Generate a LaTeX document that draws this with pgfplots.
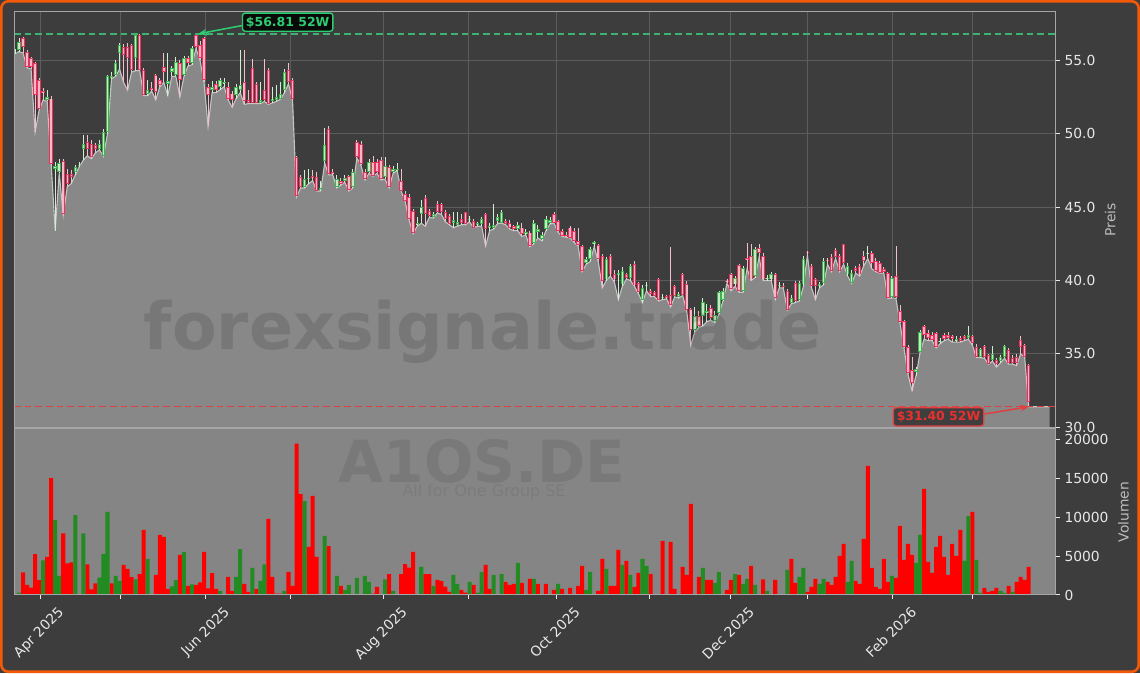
\documentclass[border=0pt]{standalone}
\usepackage{fontspec}
\setmainfont{DejaVu Sans}
\usepackage{pgfplots}
\usepackage{pgfplotstable}
\pgfplotsset{compat=1.18}
\usetikzlibrary{arrows.meta}

\definecolor{figbg}{HTML}{3D3D3D}
\definecolor{orangeedge}{HTML}{F25A0A}
\definecolor{areagray}{HTML}{888888}
\definecolor{arealine}{HTML}{C4C4C4}
\definecolor{volbg}{HTML}{858585}
\definecolor{gridc}{HTML}{5C5C5C}
\definecolor{spinec}{HTML}{A6A6A6}
\definecolor{ticktext}{HTML}{E8E8E8}
\definecolor{labeltext}{HTML}{BDBDBD}
\definecolor{upedge}{HTML}{3DB54A}
\definecolor{upfill}{HTML}{C9E8C9}
\definecolor{upwick}{HTML}{D2EED2}
\definecolor{downedge}{HTML}{E8335E}
\definecolor{downfill}{HTML}{F7B7C6}
\definecolor{downwick}{HTML}{F2BFCB}
\definecolor{volred}{HTML}{FF0000}
\definecolor{volgreen}{HTML}{228B22}
\definecolor{hiline}{HTML}{3CB371}
\definecolor{hitext}{HTML}{2ECC71}
\definecolor{loline}{HTML}{E04040}
\definecolor{lotext}{HTML}{E8312F}

\newcommand\chartfont{\fontsize{10}{12}\selectfont}

% daily candles, i = trading day index
\pgfplotstableread{
i o h l c
0 55.50 55.80 55.45 55.60
1 55.71 56.50 55.60 56.28
2 56.50 56.60 55.50 55.93
3 55.55 55.70 54.50 54.56
4 55.14 55.20 54.40 54.56
5 54.79 54.90 50.10 52.62
6 53.65 53.80 51.60 51.71
7 52.90 53.10 52.30 52.80
8 52.30 52.97 52.20 52.50
9 52.40 52.60 47.90 47.94
10 47.60 48.10 43.40 47.80
11 47.40 48.30 47.30 48.00
12 48.17 48.30 44.45 44.50
13 47.26 47.60 46.40 46.57
14 47.26 47.50 46.60 47.03
15 47.37 47.90 47.20 47.76
16 47.80 48.10 47.75 47.90
17 48.97 49.88 48.20 49.31
18 49.43 49.90 48.50 48.97
19 49.31 49.60 48.30 48.40
20 49.20 49.40 48.70 48.97
21 48.97 49.60 48.90 49.31
22 48.51 50.30 48.45 50.11
23 50.11 54.00 50.00 53.92
24 53.80 54.20 53.75 53.90
25 53.99 55.00 53.90 54.79
26 55.48 56.20 54.40 56.05
27 55.93 56.10 53.50 55.36
28 55.93 56.20 52.97 55.14
29 56.05 56.10 54.20 54.34
30 55.14 56.80 54.30 56.73
31 56.73 56.80 54.30 54.34
32 54.34 54.50 52.60 52.62
33 52.70 53.65 52.60 53.00
34 53.10 53.50 52.90 53.00
35 54.00 54.10 52.30 52.85
36 53.65 53.80 53.20 53.31
37 54.56 55.50 53.50 54.22
38 53.40 55.50 52.60 53.60
39 54.22 54.60 53.90 54.45
40 53.99 55.20 53.90 54.90
41 54.79 55.00 52.50 53.65
42 53.99 55.30 53.90 55.14
43 55.14 55.30 54.60 54.79
44 54.79 56.00 54.70 55.82
45 56.73 56.81 55.80 55.93
46 56.05 56.30 55.00 55.14
47 56.50 56.60 53.50 53.65
48 53.20 53.40 50.50 52.62
49 52.97 53.60 52.80 53.20
50 53.42 53.60 52.80 52.97
51 53.20 53.80 53.00 53.65
52 53.50 53.80 53.20 53.55
53 53.20 53.50 52.30 52.40
54 52.74 52.90 51.80 52.28
55 52.62 53.40 52.40 53.20
56 53.00 55.70 52.80 53.30
57 53.50 55.70 52.00 52.20
58 52.30 53.00 52.05 52.10
59 54.50 55.10 52.05 52.10
60 53.40 53.50 52.05 52.10
61 52.10 53.50 52.05 52.30
62 53.00 55.10 52.20 52.30
63 54.34 54.50 52.00 52.05
64 52.20 53.20 52.10 52.40
65 52.30 53.30 52.20 52.50
66 52.40 53.50 52.35 52.70
67 52.97 54.40 52.80 54.22
68 54.34 54.80 53.40 53.54
69 53.65 53.80 52.30 52.40
70 48.40 48.50 45.70 45.77
71 47.03 47.20 46.30 46.35
72 46.35 47.50 46.30 46.92
73 46.90 47.60 46.60 47.00
74 47.10 47.50 46.80 47.00
75 47.03 47.40 46.10 46.12
76 46.20 46.80 46.10 46.30
77 48.17 50.40 48.00 49.20
78 50.34 50.50 47.20 47.26
79 47.40 47.60 47.20 47.26
80 46.35 47.20 46.30 46.92
81 46.80 47.00 46.50 46.57
82 46.80 47.20 46.70 47.00
83 47.10 47.20 46.10 46.20
84 46.40 47.60 46.30 47.40
85 49.43 49.60 48.35 48.40
86 49.31 49.50 47.85 47.94
87 47.40 47.60 46.85 46.90
88 47.40 48.30 47.30 48.05
89 48.05 48.50 47.10 47.14
90 48.05 48.30 47.30 47.37
91 48.18 48.40 46.85 46.92
92 47.03 48.40 46.90 47.83
93 47.72 47.90 46.30 46.35
94 47.38 47.80 47.30 47.60
95 47.55 48.00 47.50 47.60
96 46.80 47.60 46.10 46.12
97 45.89 46.10 45.40 45.44
98 45.67 45.90 44.10 44.18
99 44.75 44.90 43.20 43.27
100 43.80 44.30 43.70 43.90
101 44.52 45.50 43.90 44.98
102 45.62 45.80 43.70 44.52
103 44.75 44.90 44.30 44.41
104 44.30 44.70 44.25 44.52
105 45.21 45.40 44.60 44.64
106 45.21 45.30 44.50 44.64
107 44.64 44.80 44.00 44.18
108 44.40 44.50 43.80 43.84
109 43.90 44.64 43.60 44.10
110 43.80 44.64 43.70 44.00
111 44.20 44.50 43.80 43.90
112 44.64 44.70 43.80 43.84
113 44.10 44.40 44.00 44.20
114 44.07 44.20 43.60 43.61
115 43.80 44.00 43.70 43.95
116 43.84 44.30 43.70 44.18
117 44.52 44.60 42.35 43.50
118 43.60 43.90 43.40 43.70
119 43.61 45.20 43.50 43.77
120 44.07 44.50 43.90 44.30
121 43.95 44.80 43.90 44.64
122 44.07 44.20 43.80 43.84
123 43.95 44.10 43.50 43.61
124 43.68 43.80 43.40 43.50
125 43.54 44.00 43.40 43.77
126 43.61 43.90 43.00 43.15
127 43.20 43.50 43.10 43.30
128 43.27 43.40 42.30 42.35
129 42.58 44.10 42.50 43.95
130 43.30 43.80 42.90 43.50
131 42.81 43.30 42.70 43.08
132 43.50 44.40 43.40 44.20
133 43.90 44.30 43.85 44.10
134 44.52 44.70 43.90 43.95
135 44.07 44.10 43.30 43.38
136 43.38 43.50 43.00 43.04
137 43.10 43.30 42.95 43.00
138 43.61 43.70 42.90 42.93
139 43.38 43.60 42.60 42.70
140 42.70 43.60 42.35 42.45
141 42.35 42.40 40.60 40.64
142 41.21 41.60 41.10 41.44
143 41.44 42.30 41.30 42.13
144 42.50 42.70 42.30 42.60
145 42.40 42.50 41.30 41.44
146 41.67 41.80 39.50 39.96
147 40.07 41.60 40.00 41.44
148 41.67 41.80 40.30 40.41
149 40.41 40.70 39.90 40.07
150 40.40 40.70 38.70 40.50
151 39.73 40.90 39.60 40.64
152 40.41 40.50 40.10 40.18
153 40.18 41.10 40.00 40.98
154 41.14 41.30 39.60 39.66
155 39.80 39.90 39.10 39.20
156 38.70 39.70 38.50 39.50
157 39.60 39.90 39.30 39.70
158 39.30 39.40 38.90 39.05
159 39.20 39.30 38.90 38.95
160 40.10 40.15 38.60 38.70
161 38.80 39.10 38.70 38.90
162 38.95 39.00 38.75 38.80
163 39.00 42.30 38.20 38.30
164 39.61 39.70 38.88 38.93
165 38.90 39.20 38.80 39.10
166 40.41 40.50 38.98 39.04
167 39.73 40.00 37.90 38.02
168 38.06 38.10 35.60 36.65
169 36.65 38.20 36.50 37.56
170 37.56 37.90 36.80 36.88
171 37.56 38.80 36.90 38.52
172 37.80 38.40 37.20 37.90
173 38.13 38.30 37.30 37.45
174 37.22 37.90 37.10 37.67
175 37.79 39.30 37.70 39.20
176 38.70 39.50 38.60 39.27
177 40.00 40.10 39.80 39.95
178 40.41 40.50 39.30 39.39
179 39.73 40.30 39.60 40.18
180 41.03 41.10 39.20 39.27
181 39.27 41.00 39.20 40.87
182 41.50 42.58 40.80 41.40
183 41.67 42.50 40.00 40.07
184 40.30 42.30 40.20 42.13
185 42.20 42.50 41.60 41.90
186 41.67 41.90 40.00 40.07
187 40.10 40.40 40.00 40.20
188 40.07 40.60 40.00 40.41
189 40.41 40.50 38.70 38.80
190 39.60 39.90 39.50 39.70
191 39.65 39.80 39.50 39.60
192 39.27 39.40 37.98 38.02
193 38.50 39.00 38.40 38.80
194 39.84 40.00 38.50 38.59
195 38.70 40.00 38.60 39.84
196 39.73 41.70 39.60 41.49
197 41.95 42.00 41.70 41.85
198 40.98 41.10 39.50 39.61
199 40.07 40.20 38.70 39.61
200 39.61 39.90 39.50 39.73
201 39.84 41.50 39.70 41.33
202 41.40 41.50 41.10 41.30
203 41.62 41.80 40.60 40.64
204 42.08 42.20 41.50 41.62
205 41.67 41.80 40.60 40.64
206 42.47 42.50 41.10 41.21
207 40.41 41.20 40.30 40.98
208 39.84 40.70 39.80 40.53
209 40.87 41.00 40.50 40.64
210 40.98 41.10 40.30 40.41
211 41.67 42.00 41.00 41.33
212 41.80 42.35 41.50 41.90
213 41.90 42.00 40.80 41.20
214 41.33 41.50 40.60 40.64
215 41.21 41.30 40.50 40.53
216 40.80 40.90 40.50 40.60
217 40.53 40.60 38.78 38.82
218 38.90 40.30 38.80 40.18
219 40.30 42.35 38.80 38.90
220 37.90 38.30 37.10 37.20
221 37.22 37.30 35.40 35.50
222 35.50 35.60 33.60 33.68
223 33.91 34.80 32.50 33.00
224 33.80 34.10 33.50 33.95
225 35.16 36.60 35.10 36.46
226 36.87 37.00 36.00 36.30
227 36.42 36.60 35.90 36.08
228 36.30 36.50 35.90 35.96
229 36.42 36.50 35.40 35.50
230 35.80 36.10 35.70 35.90
231 36.30 36.40 35.90 36.01
232 36.30 36.50 36.00 36.08
233 36.19 36.30 35.80 36.01
234 35.90 36.20 35.80 36.00
235 36.08 36.20 35.80 35.85
236 36.19 36.30 35.90 36.01
237 36.08 36.92 36.00 36.30
238 36.19 36.30 35.60 35.73
239 35.50 35.70 34.75 34.80
240 34.80 35.40 34.75 35.30
241 35.55 35.60 34.70 34.77
242 34.93 35.00 34.30 34.32
243 34.60 35.55 34.50 35.00
244 34.60 34.70 34.10 34.30
245 34.50 34.90 34.40 34.80
246 34.82 35.60 34.70 35.55
247 35.28 35.40 34.30 34.36
248 34.71 34.90 34.30 34.36
249 34.82 35.00 34.20 34.36
250 35.96 36.20 35.00 35.50
251 35.62 35.70 34.80 34.82
252 34.25 34.30 31.40 31.74
257.2 31.40 31.40 31.40 31.40
}\candles

\pgfplotstableread{
i v
2 2900
3 1300
4 950
5 5250
6 1900
8 4900
9 15050
12 7950
13 4080
14 4200
18 3950
19 730
20 1500
24 1500
27 3870
28 3350
29 2300
31 2700
32 8400
35 2580
36 7740
37 7480
38 770
41 5160
43 1160
45 1300
46 1630
47 5550
48 860
49 2800
50 770
53 2320
54 520
57 1420
58 390
60 770
63 9800
64 2320
65 170
66 170
68 2970
69 1160
70 19500
71 13000
73 6200
74 12770
75 4900
78 6300
81 1160
89 170
90 1030
93 2670
96 2670
97 3960
98 3530
99 5550
102 2670
103 2670
105 1935
106 1800
107 1075
108 390
111 650
112 300
114 1300
117 3870
118 770
122 1680
123 1300
124 1420
126 1550
128 2060
130 1420
132 1420
134 650
136 770
138 900
140 1160
141 3740
145 520
146 4640
148 1160
149 1160
150 5800
152 4380
154 1030
155 2840
158 2700
161 6970
163 6840
164 770
166 3610
167 2580
168 11740
170 2320
172 1935
173 1935
177 650
178 1935
180 2580
183 3740
186 2000
189 1935
193 4640
194 1550
197 390
198 1030
199 2060
202 1680
203 1300
204 2320
205 5030
206 6580
209 1800
210 1420
211 7220
212 16640
213 3480
214 1030
215 770
216 4640
217 1680
219 2200
220 8900
221 4510
222 6580
223 5160
226 13670
227 4260
228 2840
229 6200
230 7610
231 4900
232 2580
233 6580
234 5030
235 8390
238 10700
241 900
242 390
243 520
244 900
247 1160
249 1680
250 2320
251 1935
252 3610
}\volr

\pgfplotstableread{
i v
1 300
7 4470
10 9630
11 2450
15 10300
17 7950
21 2240
22 5250
23 10700
25 2450
26 1800
30 2000
33 4640
39 1120
40 1900
42 5550
44 1380
51 520
55 2320
56 5900
59 3480
61 1800
62 3950
67 520
72 12100
77 7600
80 2450
82 650
83 1300
85 2200
87 2450
88 1680
92 2000
94 520
101 3610
104 1160
109 2580
110 1420
113 1680
115 300
116 2970
119 2580
121 2700
125 4130
129 2060
135 1420
142 650
143 2970
147 3350
151 3870
153 2580
156 4640
157 3740
171 3480
174 1550
175 2970
179 2700
181 1420
182 2060
184 1300
187 520
192 3230
195 2320
196 3480
200 1420
201 2060
207 1680
208 4390
218 2450
224 4130
225 7740
236 4390
237 10190
239 4510
240 260
245 520
246 260
248 390
}\volg

\pgfplotsset{
  panel/.style={
    scale only axis, width=10.41in,
    xmin=-0.24, xmax=258.7,
    xtick={6.22,26.30,47.44,68.49,91.62,112.77,134.66,157.79,177.94,197.09,218.24,238.14},
    axis line style={draw=none},
    tick align=outside,
    major tick length=0.04in,
    tick style={draw=ticktext, line width=0.7pt},
    yticklabel pos=right, ytick pos=right,
    tick label style={font=\chartfont, text=ticktext},
    ylabel style={font=\chartfont, text=labeltext},
    clip mode=individual,
  },
  wick/.style={draw=none, mark=none, restrict x to domain=-1:253,
    error bars/y dir=plus, error bars/y explicit, error bars/error mark=none,
    error bars/error bar style={draw=#1, line width=0.6pt}},
  bodyedge/.style={draw=none, mark=none, restrict x to domain=-1:253,
    error bars/y dir=plus, error bars/y explicit, error bars/error mark=none,
    error bars/error bar style={draw=#1, line width=2.5pt}},
  bodyfill/.style={draw=none, mark=none, restrict x to domain=-1:253,
    error bars/y dir=plus, error bars/y explicit, error bars/error mark=none,
    error bars/error bar style={draw=#1, line width=1.1pt, shorten <=0.7pt, shorten >=0.7pt}},
}

\begin{document}
\begin{tikzpicture}[x=0.01in, y=0.01in]
\useasboundingbox (0,0) rectangle (1140,673);
\fill[figbg] (0,0) rectangle (1140,673);

% price panel
\begin{axis}[panel, at={(0.14in,6.61in)}, anchor=north west, height=4.16in,
  ymin=29.96, ymax=58.32, ytick={30,35,40,45,50,55},
  xticklabels={}, xtick style={draw=none},
  grid=major, grid style={draw=gridc, line width=0.6pt},
  yticklabel style={/pgf/number format/.cd, fixed, fixed zerofill, precision=1, assume math mode=true},
  ylabel={Preis},
]
\addplot[fill=areagray, draw=none] table[x=i, y=l] {\candles} \closedcycle;
\addplot[draw=arealine, line width=0.8pt, mark=none] table[x=i, y=l] {\candles};

\addplot[wick=upwick, restrict expr to domain={\thisrow{c}-\thisrow{o}}{0:100}]
  table[x=i, y=l, y error plus expr=\thisrow{h}-\thisrow{l}] {\candles};
\addplot[wick=downwick, restrict expr to domain={\thisrow{o}-\thisrow{c}}{0.001:100}]
  table[x=i, y=l, y error plus expr=\thisrow{h}-\thisrow{l}] {\candles};

\addplot[bodyedge=upedge, restrict expr to domain={\thisrow{c}-\thisrow{o}}{0:100}]
  table[x=i, y=o, y error plus expr=\thisrow{c}-\thisrow{o}] {\candles};
\addplot[bodyfill=upfill, restrict expr to domain={\thisrow{c}-\thisrow{o}}{0:100}]
  table[x=i, y=o, y error plus expr=\thisrow{c}-\thisrow{o}] {\candles};
\addplot[bodyedge=downedge, restrict expr to domain={\thisrow{o}-\thisrow{c}}{0.001:100}]
  table[x=i, y=c, y error plus expr=\thisrow{o}-\thisrow{c}] {\candles};
\addplot[bodyfill=downfill, restrict expr to domain={\thisrow{o}-\thisrow{c}}{0.001:100}]
  table[x=i, y=c, y error plus expr=\thisrow{o}-\thisrow{c}] {\candles};

% 52-week high / low
\addplot[hiline, line width=1.1pt, dash pattern=on 4.8pt off 2.9pt, mark=none] coordinates {(-0.24,56.81) (258.7,56.81)};
\addplot[loline, line width=1.1pt, dash pattern=on 4.8pt off 2.9pt, mark=none] coordinates {(-0.24,31.40) (258.7,31.40)};

\node[draw=hitext, line width=1pt, fill=black, fill opacity=0.85, text opacity=1, rounded corners=2pt,
  text=hitext, font=\bfseries\fontsize{9}{11}\selectfont, inner xsep=2.5pt, inner ysep=2.5pt]
  (hi) at (axis cs:67.8,57.60) {\$56.81 52W};
\draw[-{Stealth[length=6pt,width=5pt]}, hitext, line width=1.1pt] ([yshift=-2.5pt]hi.west) -- (axis cs:45.6,56.81);

\node[draw=loline, line width=1pt, fill=black!80, fill opacity=0.85, text opacity=1, rounded corners=2pt,
  text=lotext, font=\bfseries\fontsize{9}{11}\selectfont, inner xsep=2.5pt, inner ysep=2.5pt]
  (lo) at (axis cs:229.6,30.71) {\$31.40 52W};
\draw[-{Stealth[length=6pt,width=5pt]}, loline, line width=1.1pt] ([yshift=2pt]lo.east) -- (axis cs:252,31.40);

\draw[spinec, line width=0.7pt] (rel axis cs:0,0) rectangle (rel axis cs:1,1);
\end{axis}

% volume panel
\begin{axis}[panel, at={(0.14in,2.44in)}, anchor=north west, height=1.66in,
  ymin=0, ymax=21400, ytick={0,5000,10000,15000,20000},
  scaled y ticks=false,
  yticklabel style={/pgf/number format/.cd, fixed, 1000 sep={}, assume math mode=true},
  xtick pos=left,
  xticklabels={Apr 2025,,Jun 2025,,Aug 2025,,Oct 2025,,Dec 2025,,Feb 2026,},
  xticklabel style={xshift=0.17in, rotate=45, anchor=north east},
  axis background/.style={fill=volbg},
  ylabel={Volumen},
]
\addplot[ybar, bar width=1, bar shift=0pt, fill=volred, draw=none] table[x=i, y=v] {\volr};
\addplot[ybar, bar width=1, bar shift=0pt, fill=volgreen, draw=none] table[x=i, y=v] {\volg};
\draw[spinec, line width=0.7pt] (rel axis cs:0,0) rectangle (rel axis cs:1,1);
\end{axis}

% watermarks
\node[anchor=base, text=black, text opacity=0.12, font=\bfseries\fontsize{47}{50}\selectfont] at (483,324) {forexsignale.trade};
\node[anchor=base, text=black, text opacity=0.09, font=\bfseries\fontsize{42}{46}\selectfont] at (482,191) {A1OS.DE};
\node[anchor=base, text=black, text opacity=0.07, font=\fontsize{11.5}{13}\selectfont] at (484,177) {All for One Group SE};

\draw[orangeedge, line width=0.026in, rounded corners=0.07in] (1.3,1.3) rectangle (1138.7,671.7);
\end{tikzpicture}
\end{document}
